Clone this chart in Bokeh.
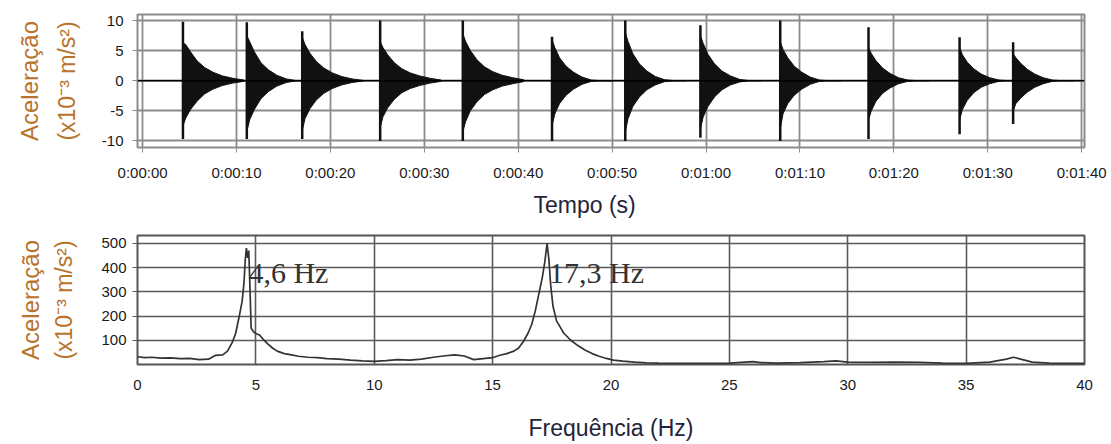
from bokeh.plotting import figure
from bokeh.layouts import column
from bokeh.models import Range1d, FixedTicker, Span, Title
from bokeh.core.properties import value
from bokeh.embed import file_html
from bokeh.resources import INLINE

# ------------------------------------------------------------------
# Top chart: acceleration record (time in seconds)
# ------------------------------------------------------------------
TIME_TICKS = [0, 10, 20, 30, 40, 50, 60, 70, 80, 90, 100]
TIME_LABELS = ["0:00:00", "0:00:10", "0:00:20", "0:00:30", "0:00:40", "0:00:50",
               "0:01:00", "0:01:10", "0:01:20", "0:01:30", "0:01:40"]
ACC_TICKS = [-10, -5, 0, 5, 10]
ACC_LABELS = ["-10", "-5", "0", "5", "10"]

BURST_START = [4.3, 11.1, 17.0, 25.3, 34.1, 43.6, 51.4, 59.4, 67.9, 77.3, 87.0, 92.7]
SPIKE_TOP = [9.8, 9.7, 8.2, 10.0, 10.0, 7.3, 10.0, 9.2, 10.0, 8.9, 7.2, 6.4]
SPIKE_BOTTOM = [-9.7, -9.7, -9.7, -10.0, -10.0, -10.0, -10.0, -9.5, -10.0, -9.7, -8.9, -7.2]
ENV_DT = [0.0, 0.3, 0.8, 1.5, 2.3, 3.2, 4.2, 5.3, 6.5]
ENV_UPPER = [
    [6.3, 6.0, 4.8, 3.3, 2.2, 1.4, 0.8, 0.4, 0.1],
    [7.5, 6.5, 4.8, 3.0, 1.8, 0.9, 0.3, 0.0, 0.0],
    [7.2, 6.0, 4.6, 3.2, 2.1, 1.3, 0.7, 0.3, 0.05],
    [6.5, 5.5, 4.3, 3.0, 2.0, 1.3, 0.8, 0.4, 0.1],
    [7.8, 6.5, 5.0, 3.5, 2.3, 1.5, 0.9, 0.5, 0.15],
    [6.8, 5.5, 3.8, 2.4, 1.4, 0.6, 0.1, 0.0, 0.0],
    [8.0, 6.5, 4.5, 2.8, 1.6, 0.7, 0.15, 0.0, 0.0],
    [7.5, 6.2, 4.4, 2.8, 1.6, 0.8, 0.2, 0.0, 0.0],
    [6.5, 5.2, 3.8, 2.4, 1.4, 0.6, 0.1, 0.0, 0.0],
    [5.5, 4.5, 3.3, 2.1, 1.2, 0.5, 0.1, 0.0, 0.0],
    [5.5, 4.3, 3.1, 2.0, 1.1, 0.5, 0.1, 0.0, 0.0],
    [4.5, 3.8, 2.9, 1.9, 1.1, 0.5, 0.1, 0.0, 0.0],
]
ENV_LOWER = [
    [-7.5, -6.2, -4.8, -3.4, -2.2, -1.4, -0.8, -0.4, -0.1],
    [-8.5, -6.5, -4.8, -3.0, -1.8, -0.9, -0.3, 0.0, 0.0],
    [-8.3, -6.3, -4.7, -3.2, -2.1, -1.3, -0.7, -0.3, -0.05],
    [-7.8, -6.0, -4.5, -3.1, -2.0, -1.3, -0.8, -0.4, -0.1],
    [-8.5, -6.8, -5.0, -3.5, -2.3, -1.5, -0.9, -0.5, -0.15],
    [-7.5, -5.5, -3.8, -2.4, -1.4, -0.6, -0.1, 0.0, 0.0],
    [-8.5, -6.3, -4.3, -2.7, -1.5, -0.7, -0.15, 0.0, 0.0],
    [-8.0, -6.0, -4.3, -2.7, -1.5, -0.7, -0.2, 0.0, 0.0],
    [-8.0, -5.5, -3.8, -2.4, -1.4, -0.6, -0.1, 0.0, 0.0],
    [-6.5, -5.0, -3.4, -2.1, -1.2, -0.5, -0.1, 0.0, 0.0],
    [-6.5, -4.8, -3.3, -2.0, -1.1, -0.5, -0.1, 0.0, 0.0],
    [-5.0, -3.8, -2.9, -1.9, -1.1, -0.5, -0.1, 0.0, 0.0],
]

# ------------------------------------------------------------------
# Bottom chart: frequency spectrum
# ------------------------------------------------------------------
FREQ = [0.0, 0.3, 0.6, 1.0, 1.4, 1.8, 2.2, 2.6, 3.0, 3.3, 3.6, 3.8, 4.0, 4.15, 4.3,
        4.42, 4.5, 4.55, 4.6, 4.65, 4.7, 4.75, 4.8, 4.9, 5.0, 5.15, 5.3, 5.5, 5.7,
        5.9, 6.2, 6.5, 6.8, 7.2, 7.6, 8.0, 8.5, 9.0, 9.5, 10.0, 10.5, 11.0, 11.5,
        12.0, 12.5, 13.0, 13.4, 13.8, 14.2, 14.6, 15.0, 15.3, 15.6, 15.9, 16.1,
        16.3, 16.5, 16.65, 16.8, 16.95, 17.1, 17.2, 17.3, 17.38, 17.45, 17.55,
        17.7, 17.85, 18.0, 18.3, 18.6, 18.9, 19.2, 19.5, 19.8, 20.1, 20.5, 21.0,
        21.5, 22.0, 23.0, 24.0, 25.0, 26.0, 26.3, 27.0, 28.0, 29.0, 29.5, 30.0,
        31.0, 32.0, 33.0, 34.0, 35.0, 36.0, 36.7, 37.0, 37.3, 37.8, 38.5, 40.0]
AMP = [32, 28, 30, 26, 27, 24, 25, 20, 22, 38, 40, 55, 90, 130, 200,
       260, 340, 430, 480, 440, 470, 320, 150, 135, 128, 122, 105, 85, 68,
       55, 45, 40, 34, 30, 28, 24, 22, 18, 15, 13, 16, 20, 18,
       22, 30, 36, 40, 35, 20, 24, 28, 38, 45, 55, 68,
       95, 130, 165, 220, 290, 360, 420, 500, 430, 330, 240,
       180, 155, 130, 100, 78, 60, 45, 34, 25, 18, 14, 10,
       7, 6, 5, 5, 6, 12, 8, 6, 8, 12, 15, 10,
       9, 10, 9, 6, 5, 10, 22, 30, 22, 10, 6, 5]
FREQ_TICKS = [0, 5, 10, 15, 20, 25, 30, 35, 40]
AMP_TICKS = [100, 200, 300, 400, 500]
PEAK_FREQ = [4.6, 17.3]
PEAK_TEXT = ["4,6 Hz", "17,3 Hz"]

# ------------------------------------------------------------------
TICK_FONT = "Liberation Sans"
LABEL_FONT = "Liberation Sans"
YLAB_COLOR = "#b8732c"
XLAB_COLOR = "#23233a"
H1 = 234
H2 = 444 - H1

# ---------------- top figure ----------------
p1 = figure(width=1111, height=H1, output_backend="svg", toolbar_location=None,
            x_range=Range1d(-0.54, 100.3), y_range=Range1d(-11.1, 11.0),
            min_border_left=137, min_border_right=27, min_border_top=14,
            min_border_bottom=H1 - 147, title=None)
p1.background_fill_color = "white"
p1.border_fill_color = "white"
p1.outline_line_color = "#8c8c8c"
p1.outline_line_width = 2

p1.xaxis.ticker = FixedTicker(ticks=TIME_TICKS)
p1.xaxis.major_label_overrides = {t: l for t, l in zip(TIME_TICKS, TIME_LABELS)}
p1.yaxis.ticker = FixedTicker(ticks=ACC_TICKS)
p1.yaxis.major_label_overrides = {t: l for t, l in zip(ACC_TICKS, ACC_LABELS)}
for ax in (p1.xaxis, p1.yaxis):
    ax.axis_line_color = None
    ax.major_tick_line_color = "#8c8c8c"
    ax.major_tick_out = 5
    ax.major_tick_in = 0
    ax.minor_tick_line_color = None
    ax.major_label_text_font = TICK_FONT
    ax.major_label_text_font_size = "15px"
    ax.major_label_text_color = "#1a1a1a"
    ax.axis_label_text_font = LABEL_FONT
    ax.axis_label_text_font_style = "normal"
p1.xaxis.major_label_standoff = 11
p1.yaxis.major_label_standoff = 9
p1.yaxis.axis_label = "(x10⁻³ m/s²)"
p1.yaxis.axis_label_standoff = 19
p1.yaxis.axis_label_text_font_size = "23px"
p1.yaxis.axis_label_text_color = YLAB_COLOR
p1.add_layout(Title(text="Aceleração", align="center", standoff=16,
                    text_font=LABEL_FONT, text_font_size="24px",
                    text_font_style="normal", text_color=YLAB_COLOR), "left")
p1.add_layout(Title(text="Tempo (s)", align="left", offset=396, standoff=12,
                    text_font=LABEL_FONT, text_font_size="23px",
                    text_font_style="normal", text_color=XLAB_COLOR), "below")
p1.xgrid.ticker = FixedTicker(ticks=TIME_TICKS)
p1.ygrid.ticker = FixedTicker(ticks=ACC_TICKS)
p1.grid.grid_line_color = "#8c8c8c"
p1.grid.grid_line_width = 1.8

p1.add_layout(Span(location=0, dimension="width", line_color="black", line_width=1.5))

xs, ys = [], []
for t0, up, lo in zip(BURST_START, ENV_UPPER, ENV_LOWER):
    tx = [t0 + d for d in ENV_DT]
    xs.append(tx + tx[::-1])
    ys.append(up + lo[::-1])
p1.patches(xs, ys, fill_color="#111111", line_color="#111111", line_width=1)
p1.segment(x0=BURST_START, y0=SPIKE_BOTTOM, x1=BURST_START, y1=SPIKE_TOP,
           line_color="#111111", line_width=2.5)

# ---------------- bottom figure ----------------
p2 = figure(width=1111, height=H2, output_backend="svg", toolbar_location=None,
            x_range=Range1d(0, 40), y_range=Range1d(0, 532),
            min_border_left=134, min_border_right=18, min_border_top=235 - H1,
            min_border_bottom=H2 - (235 - H1) - 129, title=None)
p2.background_fill_color = "white"
p2.border_fill_color = "white"
p2.outline_line_color = "#555555"
p2.outline_line_width = 2

p2.xaxis.ticker = FixedTicker(ticks=FREQ_TICKS)
p2.yaxis.ticker = FixedTicker(ticks=AMP_TICKS)
for ax in (p2.xaxis, p2.yaxis):
    ax.axis_line_color = None
    ax.major_tick_line_color = "#555555"
    ax.minor_tick_line_color = None
    ax.major_tick_in = 0
    ax.major_label_text_font = TICK_FONT
    ax.major_label_text_font_size = "15px"
    ax.major_label_text_color = "#1a1a1a"
    ax.axis_label_text_font = LABEL_FONT
    ax.axis_label_text_font_style = "normal"
p2.xaxis.major_tick_out = 0
p2.xaxis.major_label_standoff = 15
p2.xaxis.axis_label = "Frequência (Hz)"
p2.xaxis.axis_label_standoff = 22
p2.xaxis.axis_label_text_font_size = "23px"
p2.xaxis.axis_label_text_color = XLAB_COLOR
p2.yaxis.major_tick_out = 5
p2.yaxis.major_label_standoff = 6
p2.yaxis.axis_label = "(x10⁻³ m/s²)"
p2.yaxis.axis_label_standoff = 21
p2.yaxis.axis_label_text_font_size = "23px"
p2.yaxis.axis_label_text_color = YLAB_COLOR
p2.add_layout(Title(text="Aceleração", align="center", standoff=9,
                    text_font=LABEL_FONT, text_font_size="24px",
                    text_font_style="normal", text_color=YLAB_COLOR), "left")

p2.xgrid.ticker = FixedTicker(ticks=FREQ_TICKS)
p2.ygrid.ticker = FixedTicker(ticks=AMP_TICKS)
p2.grid.grid_line_color = "#5a5a5a"
p2.grid.grid_line_width = 1.6

p2.line(FREQ, AMP, line_color="#333333", line_width=1.7)

peak_y = [380] * len(PEAK_FREQ)
p2.text(x=PEAK_FREQ, y=peak_y, text=PEAK_TEXT, x_offset=2,
        text_font=value("Liberation Serif"), text_font_size="30px",
        text_color="#333333", text_align="left", text_baseline="middle")

layout = column(p1, p2, spacing=0)
open("out.html", "w").write(file_html(layout, INLINE))
